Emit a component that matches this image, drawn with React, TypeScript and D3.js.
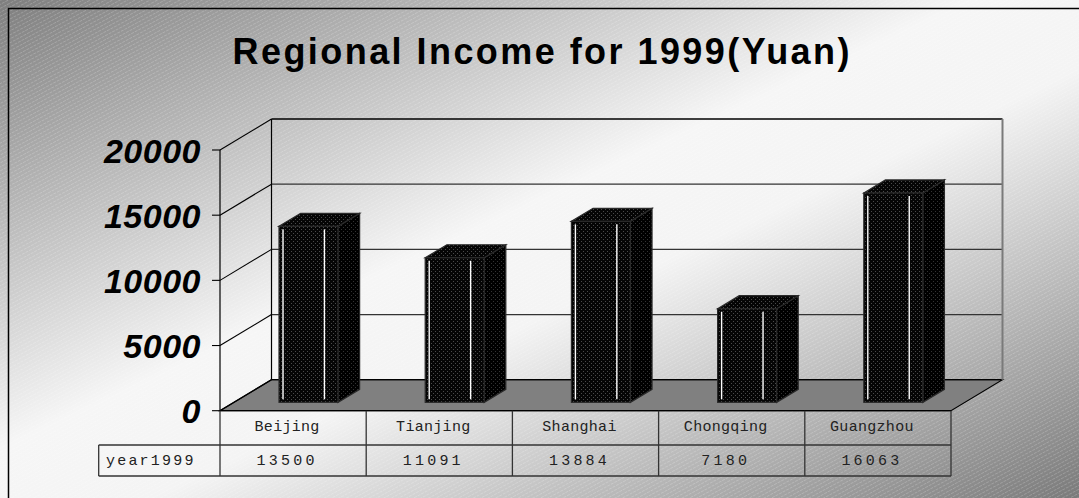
import { useEffect, useRef } from 'react';
import * as d3 from 'd3';

const regions = ['Beijing', 'Tianjing', 'Shanghai', 'Chongqing', 'Guangzhou'];
const income1999 = [13500, 11091, 13884, 7180, 16063];
const seriesName = 'year1999';
const yTicks = [0, 5000, 10000, 15000, 20000];
const chartTitle = 'Regional Income for 1999(Yuan)';

const W = 1079;
const H = 498;
// offset from the front plane to the back wall
const DX = 51.5;
const DY = -31;
// bar depth, as a share of the total depth
const BAR_Z0 = 0.27;
const BAR_Z1 = 0.69;

function App() {
  const svgRef = useRef(null);

  useEffect(() => {
    const svg = d3.select(svgRef.current);
    svg.selectAll('*').remove();

    const defs = svg.append('defs');

    const bg = defs
      .append('linearGradient')
      .attr('id', 'bgGrad')
      .attr('x1', 0)
      .attr('y1', 0)
      .attr('x2', 1)
      .attr('y2', 1);
    bg.append('stop').attr('offset', 0).attr('stop-color', '#7e7e7e');
    bg.append('stop').attr('offset', 0.45).attr('stop-color', '#f6f6f6');
    bg.append('stop').attr('offset', 0.57).attr('stop-color', '#f4f4f4');
    bg.append('stop').attr('offset', 1).attr('stop-color', '#7a7a7a');

    const stripes = defs
      .append('pattern')
      .attr('id', 'stripes')
      .attr('patternUnits', 'userSpaceOnUse')
      .attr('width', 8)
      .attr('height', 3.5)
      .attr('patternTransform', 'rotate(-28)');
    stripes
      .append('line')
      .attr('x1', 0)
      .attr('x2', 8)
      .attr('y1', 0.5)
      .attr('y2', 0.5)
      .attr('stroke', '#fff')
      .attr('stroke-opacity', 0.25)
      .attr('stroke-width', 0.8)
      .attr('stroke-dasharray', '3 1');

    const dots = (id, base, dot) => {
      const p = defs
        .append('pattern')
        .attr('id', id)
        .attr('patternUnits', 'userSpaceOnUse')
        .attr('width', 4)
        .attr('height', 4);
      p.append('rect').attr('width', 4).attr('height', 4).attr('fill', base);
      p.append('rect').attr('x', 1).attr('y', 1).attr('width', 1).attr('height', 1).attr('fill', dot);
      p.append('rect').attr('x', 3).attr('y', 3).attr('width', 1).attr('height', 1).attr('fill', dot);
    };
    dots('dotFront', '#050505', '#4a4a4a');
    dots('dotSide', '#000', '#333');

    // background + frame
    svg.append('rect').attr('x', 0).attr('y', 0).attr('width', W).attr('height', H).attr('fill', 'url(#bgGrad)');
    svg.append('rect').attr('x', 0).attr('y', 0).attr('width', W).attr('height', H).attr('fill', 'url(#stripes)');
    svg
      .append('rect')
      .attr('x', 8.5)
      .attr('y', 8.5)
      .attr('width', W + 10)
      .attr('height', H + 10)
      .attr('fill', 'none')
      .attr('stroke', '#000')
      .attr('stroke-width', 1.5);

    svg
      .append('text')
      .attr('x', 541)
      .attr('y', 64)
      .attr('text-anchor', 'middle')
      .attr('font-family', 'Liberation Sans, Arial, sans-serif')
      .attr('font-weight', 'bold')
      .attr('font-size', 36)
      .attr('textLength', 617)
      .attr('lengthAdjust', 'spacing')
      .text(chartTitle);

    const x = d3.scaleBand().domain(regions).range([220, 951]);
    const y = d3.scaleLinear().domain([0, 20000]).range([410.7, 150]);
    const x0 = x.range()[0];
    const x1 = x.range()[1];
    const y0 = y(0);

    const g = svg.append('g');

    // floor
    g.append('path')
      .attr('d', `M${x0},${y0}L${x1},${y0}L${x1 + DX},${y0 + DY}L${x0 + DX},${y0 + DY}Z`)
      .attr('fill', '#808080')
      .attr('stroke', '#000')
      .attr('stroke-width', 1.2);

    // back wall gridlines and side wall diagonals
    yTicks.forEach((t) => {
      const yy = y(t);
      g.append('line')
        .attr('x1', x0 + DX)
        .attr('x2', x1 + DX)
        .attr('y1', yy + DY)
        .attr('y2', yy + DY)
        .attr('stroke', t === 20000 || t === 0 ? '#000' : '#333')
        .attr('stroke-width', 1.3);
      g.append('line')
        .attr('x1', x0)
        .attr('x2', x0 + DX)
        .attr('y1', yy)
        .attr('y2', yy + DY)
        .attr('stroke', '#000')
        .attr('stroke-width', 1.1);
      g.append('line')
        .attr('x1', x0 - 8)
        .attr('x2', x0)
        .attr('y1', yy)
        .attr('y2', yy)
        .attr('stroke', '#000')
        .attr('stroke-width', 1.1);
      g.append('text')
        .attr('x', 201)
        .attr('y', yy + 12.5)
        .attr('text-anchor', 'end')
        .attr('font-family', 'Liberation Sans, Arial, sans-serif')
        .attr('font-weight', 'bold')
        .attr('font-style', 'italic')
        .attr('font-size', 34)
        .attr('letter-spacing', 0.5)
        .attr('fill', '#000')
        .text(t);
    });
    g.append('line')
      .attr('x1', x0 + DX)
      .attr('x2', x0 + DX)
      .attr('y1', y(20000) + DY)
      .attr('y2', y0 + DY)
      .attr('stroke', '#000')
      .attr('stroke-width', 1.2);
    g.append('line')
      .attr('x1', x1 + DX)
      .attr('x2', x1 + DX)
      .attr('y1', y(20000) + DY)
      .attr('y2', y0 + DY)
      .attr('stroke', '#7a7a7a')
      .attr('stroke-width', 2);
    g.append('line')
      .attr('x1', x0)
      .attr('x2', x0)
      .attr('y1', y(20000))
      .attr('y2', y0)
      .attr('stroke', '#000')
      .attr('stroke-width', 1.2);

    // bars
    const bw = x.bandwidth();
    const barW = 59;
    const fx = DX * BAR_Z0;
    const fy = DY * BAR_Z0;
    const bx = DX * BAR_Z1;
    const by = DY * BAR_Z1;
    regions.forEach((r, i) => {
      const l = x(r) + (bw - barW) / 2 + 1.5;
      const rr = l + barW;
      const yt = y(income1999[i]);
      const bar = g.append('g');
      bar
        .append('path')
        .attr('d', `M${rr + fx},${yt + fy}L${rr + bx},${yt + by}L${rr + bx},${y0 + by}L${rr + fx},${y0 + fy}Z`)
        .attr('fill', 'url(#dotSide)')
        .attr('stroke', '#2a2a2a')
        .attr('stroke-width', 1.2);
      bar
        .append('path')
        .attr('d', `M${l + fx},${yt + fy}L${l + bx},${yt + by}L${rr + bx},${yt + by}L${rr + fx},${yt + fy}Z`)
        .attr('fill', 'url(#dotFront)')
        .attr('stroke', '#2a2a2a')
        .attr('stroke-width', 1.2);
      bar
        .append('rect')
        .attr('x', l + fx)
        .attr('y', yt + fy)
        .attr('width', barW)
        .attr('height', y0 - yt)
        .attr('fill', 'url(#dotFront)')
        .attr('stroke', '#2a2a2a')
        .attr('stroke-width', 1.2);
      [4, barW * 0.77].forEach((off) => {
        bar
          .append('line')
          .attr('x1', l + fx + off)
          .attr('x2', l + fx + off)
          .attr('y1', yt + fy + 3)
          .attr('y2', y0 + fy - 3)
          .attr('stroke', '#fff')
          .attr('stroke-width', 1.4);
      });
    });

    // data table
    const rowTop = y0;
    const rowMid = 445;
    const rowBot = 476;
    const labelLeft = 98.7;
    const tableStroke = '#333';
    g.append('line')
      .attr('x1', x0)
      .attr('x2', x1)
      .attr('y1', rowTop)
      .attr('y2', rowTop)
      .attr('stroke', '#000')
      .attr('stroke-width', 1.3);
    [rowMid, rowBot].forEach((yy) => {
      g.append('line')
        .attr('x1', labelLeft)
        .attr('x2', x1)
        .attr('y1', yy)
        .attr('y2', yy)
        .attr('stroke', tableStroke)
        .attr('stroke-width', 1.3);
    });
    [...regions.map((r) => x(r)), x1].forEach((xx) => {
      g.append('line')
        .attr('x1', xx)
        .attr('x2', xx)
        .attr('y1', rowTop)
        .attr('y2', rowBot)
        .attr('stroke', tableStroke)
        .attr('stroke-width', 1.3);
    });
    g.append('line')
      .attr('x1', labelLeft)
      .attr('x2', labelLeft)
      .attr('y1', rowMid)
      .attr('y2', rowBot)
      .attr('stroke', tableStroke)
      .attr('stroke-width', 1.3);

    const mono = 'Liberation Mono, Courier New, monospace';
    regions.forEach((r, i) => {
      const cx = x(r) + bw / 2 - 6;
      g.append('text')
        .attr('x', cx)
        .attr('y', 431)
        .attr('text-anchor', 'middle')
        .attr('font-family', mono)
        .attr('font-size', 15)
        .attr('letter-spacing', 0.3)
        .attr('fill', '#222')
        .text(r);
      g.append('text')
        .attr('x', cx)
        .attr('y', 465)
        .attr('text-anchor', 'middle')
        .attr('font-family', mono)
        .attr('font-size', 15)
        .attr('letter-spacing', 3.2)
        .attr('fill', '#222')
        .text(income1999[i]);
    });
    g.append('text')
      .attr('x', 106)
      .attr('y', 465)
      .attr('font-family', mono)
      .attr('font-size', 15)
      .attr('letter-spacing', 2.2)
      .attr('fill', '#222')
      .text(seriesName);
  }, []);

  return (
    <svg
      ref={svgRef}
      width={W}
      height={H}
      style={{ position: 'absolute', left: 0, top: 0, display: 'block' }}
    />
  );
}

export default App;
